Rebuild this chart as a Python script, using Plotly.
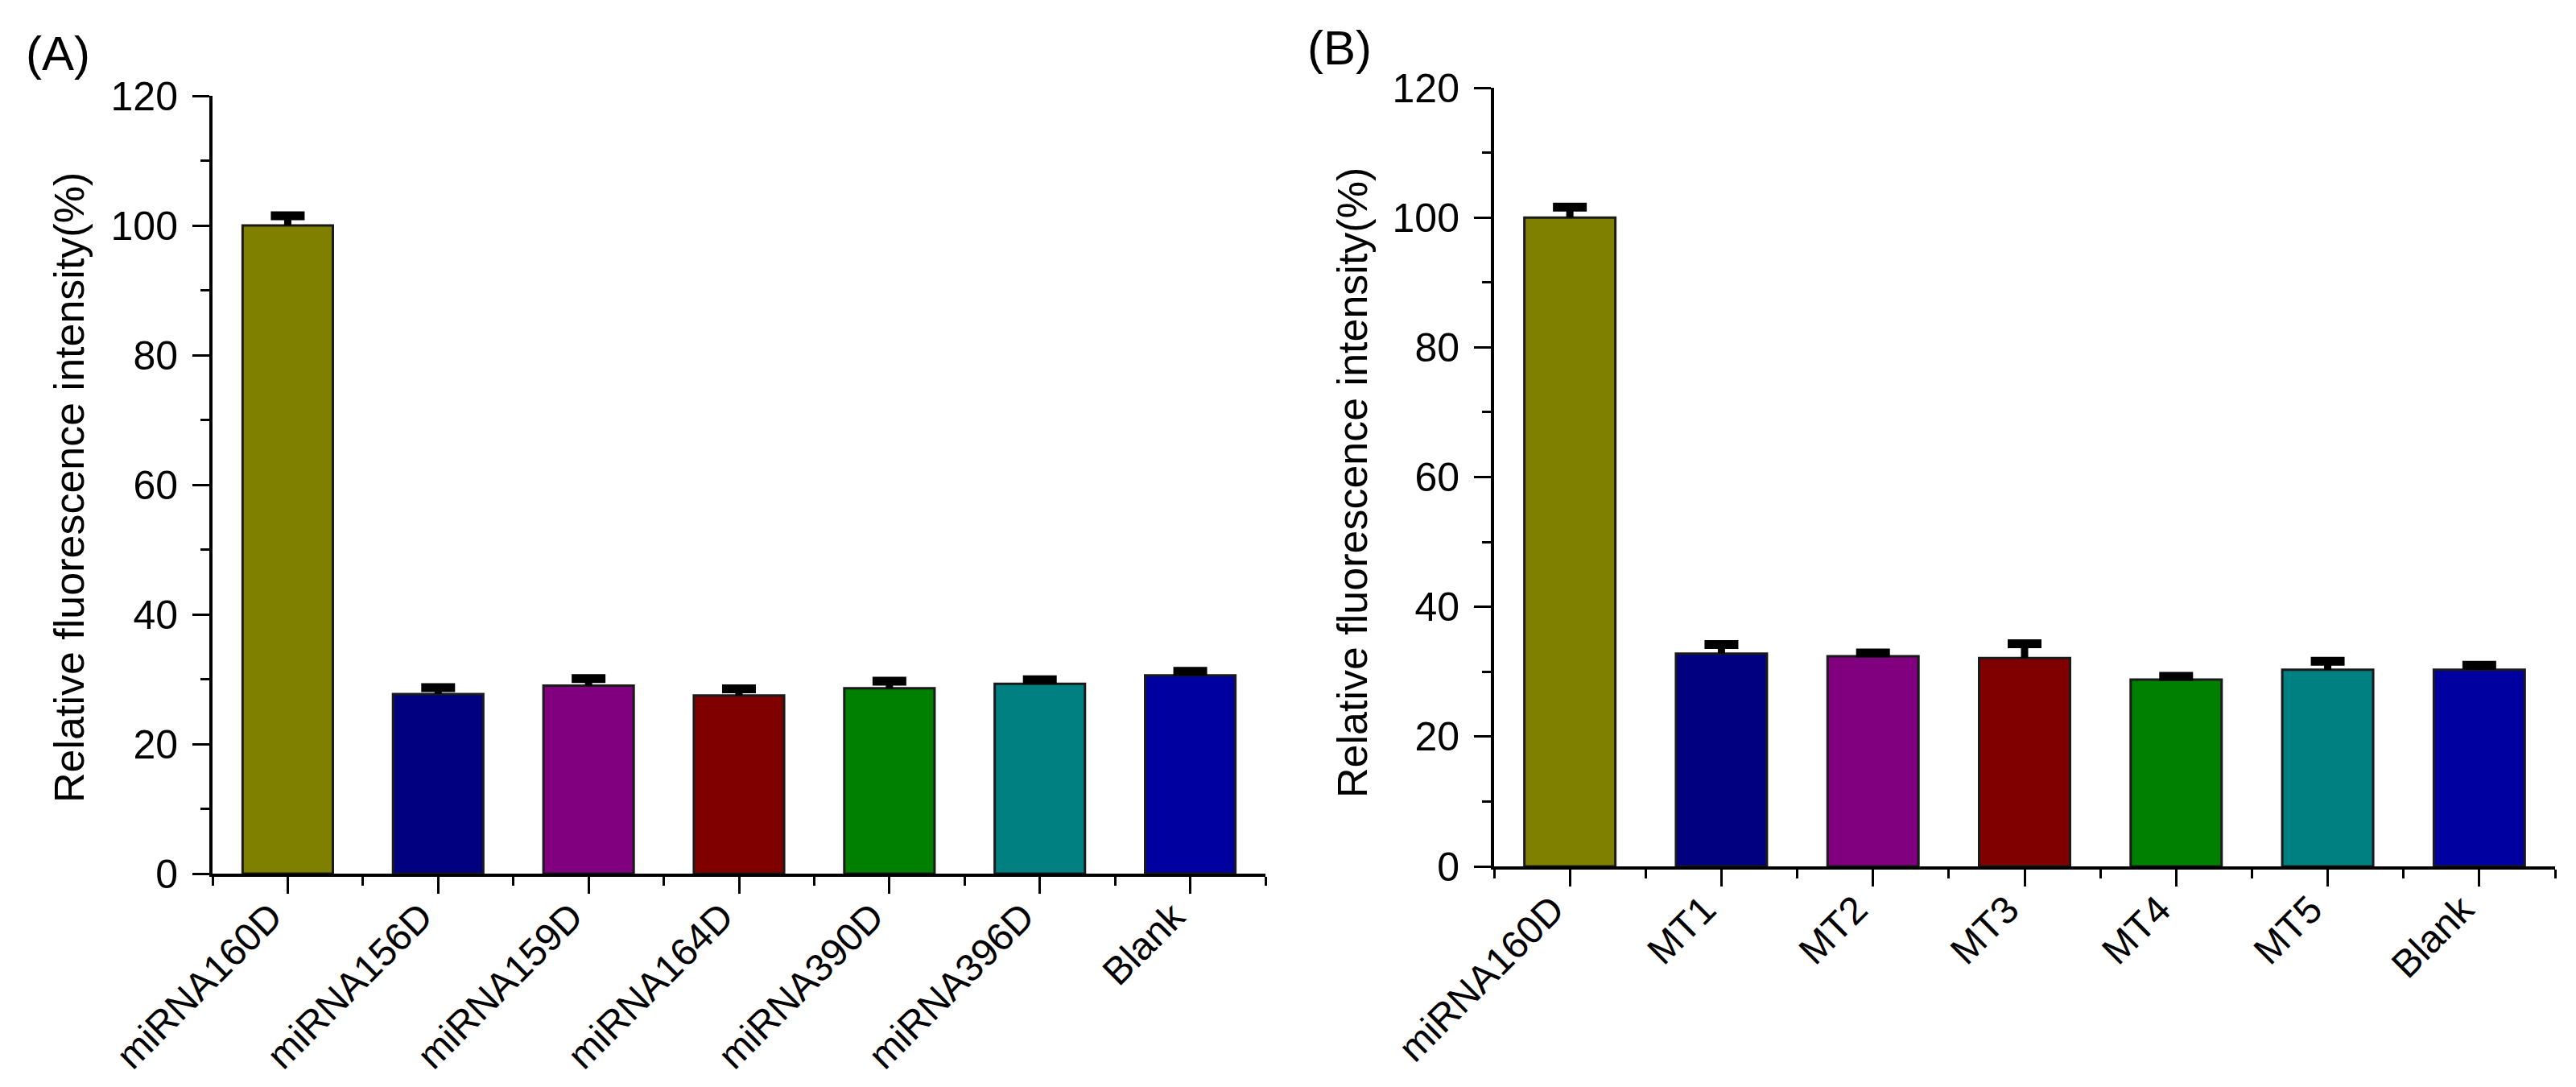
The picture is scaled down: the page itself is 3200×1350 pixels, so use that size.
import plotly.graph_objects as go

cats_a = ["miRNA160D", "miRNA156D", "miRNA159D", "miRNA164D", "miRNA390D", "miRNA396D", "Blank"]
vals_a = [100.0, 27.7, 29.0, 27.5, 28.6, 29.3, 30.6]
errs_a = [1.5, 1.0, 1.1, 1.0, 1.1, 0.6, 0.6]

cats_b = ["miRNA160D", "MT1", "MT2", "MT3", "MT4", "MT5", "Blank"]
vals_b = [100.0, 32.8, 32.4, 32.1, 28.8, 30.3, 30.3]
errs_b = [1.6, 1.4, 0.5, 2.2, 0.5, 1.3, 0.7]

bar_colors = ["#808000", "#000080", "#800080", "#800000", "#008000", "#008080", "#0000A0"]
y_ticks = [0, 20, 40, 60, 80, 100, 120]

W, H = 3200, 1350
FONT = "Liberation Sans, Arial, sans-serif"
TITLE = "Relative fluorescence intensity(%)"


def px_x(v):
    return v / W


def px_y(v):
    return 1 - v / H


def bar_trace(cats, vals, errs, xa, ya):
    # bar plus the stem of the error bar (caps drawn separately)
    return go.Bar(
        x=list(range(len(cats))), y=vals, width=0.6,
        marker=dict(color=bar_colors, line=dict(color="#1a1a1a", width=3)),
        error_y=dict(type="data", symmetric=False, array=errs,
                     arrayminus=[0] * len(errs), color="black",
                     thickness=9, width=0),
        xaxis=xa, yaxis=ya, showlegend=False,
    )


def cap_trace(cats, vals, errs, xa, ya):
    tops = [v + e for v, e in zip(vals, errs)]
    return go.Scatter(
        x=list(range(len(cats))), y=tops, mode="markers",
        marker=dict(symbol="line-ew", size=30, color="black",
                    line=dict(color="black", width=11)),
        xaxis=xa, yaxis=ya, showlegend=False, cliponaxis=False,
    )


fig = go.Figure()
fig.add_trace(bar_trace(cats_a, vals_a, errs_a, "x", "y"))
fig.add_trace(cap_trace(cats_a, vals_a, errs_a, "x", "y"))
fig.add_trace(bar_trace(cats_b, vals_b, errs_b, "x2", "y2"))
fig.add_trace(cap_trace(cats_b, vals_b, errs_b, "x2", "y2"))


def xaxis(cats, dom, anchor):
    return dict(
        domain=dom, anchor=anchor, range=[-0.5, len(cats) - 0.5],
        tickmode="array", tickvals=list(range(len(cats))), ticktext=cats,
        tickangle=-45, ticks="outside", ticklen=21, tickwidth=3, tickcolor="black",
        ticklabelshift=-21, ticklabelstandoff=-19,
        minor=dict(tickmode="linear", tick0=-0.5, dtick=1, ticks="outside",
                   ticklen=11, tickwidth=3, tickcolor="black"),
        showline=True, linecolor="black", linewidth=4,
        showgrid=False, zeroline=False, automargin=False,
        tickfont=dict(family=FONT, size=48, color="black"),
    )


def yaxis(dom, anchor):
    return dict(
        domain=dom, anchor=anchor, range=[0, 120],
        tickmode="array", tickvals=y_ticks,
        ticks="outside", ticklen=21, tickwidth=3, tickcolor="black",
        ticklabelstandoff=8,
        minor=dict(tickmode="linear", tick0=10, dtick=20, ticks="outside",
                   ticklen=11, tickwidth=3, tickcolor="black"),
        showline=True, linecolor="black", linewidth=4,
        showgrid=False, zeroline=False, automargin=False,
        tickfont=dict(family=FONT, size=50, color="black"),
    )


fig.update_layout(
    width=W, height=H,
    margin=dict(l=0, r=0, t=0, b=0),
    paper_bgcolor="white", plot_bgcolor="white",
    xaxis=xaxis(cats_a, [px_x(256), px_x(1564)], "y"),
    yaxis=yaxis([px_y(1077), px_y(111)], "x"),
    xaxis2=xaxis(cats_b, [px_x(1848), px_x(3166)], "y2"),
    yaxis2=yaxis([px_y(1068), px_y(101)], "x2"),
    annotations=[
        dict(text=TITLE, textangle=-90, x=px_x(78), y=px_y(598), xref="paper", yref="paper",
             xanchor="center", yanchor="middle", showarrow=False,
             font=dict(family=FONT, size=52, color="black")),
        dict(text=TITLE, textangle=-90, x=px_x(1672), y=px_y(592), xref="paper", yref="paper",
             xanchor="center", yanchor="middle", showarrow=False,
             font=dict(family=FONT, size=52, color="black")),
        dict(text="(A)", x=px_x(22), y=px_y(58), xref="paper", yref="paper",
             xanchor="left", yanchor="middle", showarrow=False,
             font=dict(family=FONT, size=60, color="black")),
        dict(text="(B)", x=px_x(1614), y=px_y(51), xref="paper", yref="paper",
             xanchor="left", yanchor="middle", showarrow=False,
             font=dict(family=FONT, size=60, color="black")),
    ],
)

fig.write_html("out.html")
